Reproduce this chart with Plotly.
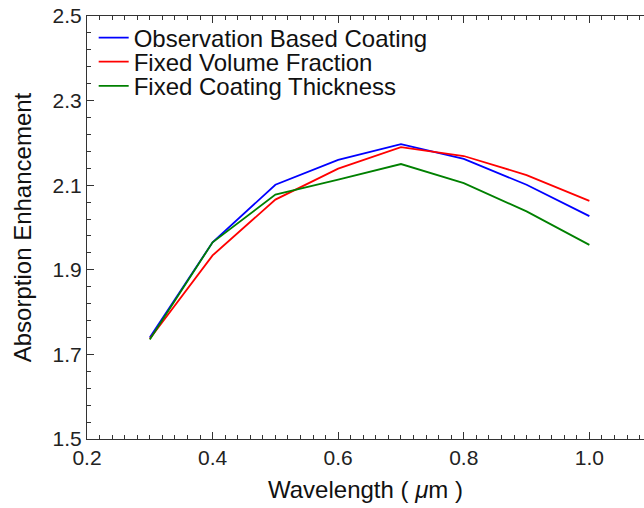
import plotly.graph_objects as go

wavelength = [0.3, 0.4, 0.5, 0.6, 0.7, 0.8, 0.9, 1.0]
observation_based = [1.740, 1.965, 2.101, 2.160, 2.197, 2.162, 2.101, 2.027]
fixed_volume = [1.737, 1.934, 2.066, 2.139, 2.190, 2.169, 2.124, 2.063]
fixed_thickness = [1.735, 1.965, 2.078, 2.113, 2.150, 2.105, 2.038, 1.959]

series_names = ["Observation Based Coating", "Fixed Volume Fraction", "Fixed Coating Thickness"]
series_colors = ["#0000ff", "#ff0000", "#008000"]

x_tickvals = [0.2, 0.4, 0.6, 0.8, 1.0]
x_ticktext = ["0.2", "0.4", "0.6", "0.8", "1.0"]
y_tickvals = [1.5, 1.7, 1.9, 2.1, 2.3, 2.5]
y_ticktext = ["1.5", "1.7", "1.9", "2.1", "2.3", "2.5"]

FONT = "Liberation Sans, Arial, sans-serif"
AXC = "#333333"

fig = go.Figure()
legends = ["legend", "legend2", "legend3"]
for ys, name, col, lg in zip([observation_based, fixed_volume, fixed_thickness],
                             series_names, series_colors, legends):
    fig.add_trace(go.Scatter(x=wavelength, y=ys, mode="lines", name=name,
                             line=dict(color=col, width=1.8), legend=lg))

leg_common = dict(x=0.012, xanchor="left", yanchor="middle",
                  bgcolor="rgba(0,0,0,0)", borderwidth=0,
                  font=dict(family=FONT, size=24, color="#111111"))
fig.update_layout(
    width=644, height=508,
    margin=dict(l=87, r=0, t=16, b=69),
    paper_bgcolor="white", plot_bgcolor="white",
    font=dict(family=FONT, color="#222222"),
    showlegend=True,
    legend=dict(y=0.948, **leg_common),
    legend2=dict(y=0.891, **leg_common),
    legend3=dict(y=0.834, **leg_common),
)

fig.update_xaxes(
    range=[0.2, 1.087], tickvals=x_tickvals, ticktext=x_ticktext, automargin=False,
    ticks="inside", ticklen=7, tickcolor=AXC, tickwidth=1,
    showline=True, linecolor=AXC, linewidth=1, mirror="ticks",
    showgrid=False, zeroline=False,
    tickfont=dict(family=FONT, size=21, color="#222222"),
    minor=dict(dtick=0.02, tick0=0.2, ticks="inside", ticklen=4, tickcolor=AXC, showgrid=False),
    title=dict(text="Wavelength ( <i>μ</i>m )", font=dict(family=FONT, size=24, color="#111111"), standoff=12),
)
fig.update_yaxes(
    range=[1.5, 2.5], tickvals=y_tickvals, ticktext=y_ticktext, automargin=False,
    ticks="inside", ticklen=7, tickcolor=AXC, tickwidth=1,
    showline=True, linecolor=AXC, linewidth=1, mirror=False,
    showgrid=False, zeroline=False,
    tickfont=dict(family=FONT, size=21, color="#222222"),
    minor=dict(dtick=0.04, tick0=1.5, ticks="inside", ticklen=4, tickcolor=AXC, showgrid=False),
    title=dict(text="Absorption Enhancement", font=dict(family=FONT, size=24, color="#111111"), standoff=14),
)

fig.write_html("out.html", config={"displayModeBar": False},
               post_script="document.body.style.margin='0';")
